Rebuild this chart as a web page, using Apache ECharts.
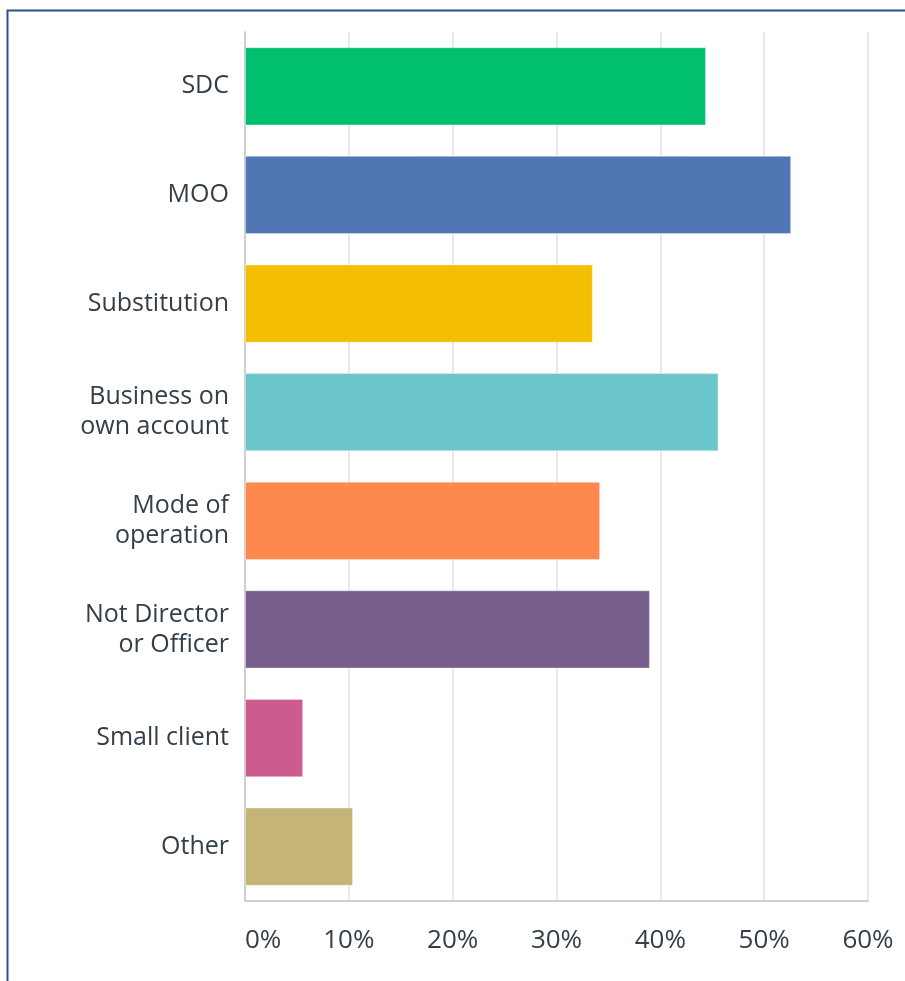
<!DOCTYPE html>
<html>
<head>
<meta charset="utf-8">
<script src="https://cdn.jsdelivr.net/npm/echarts@6/dist/echarts.min.js"></script>
<style>
  html, body { margin: 0; padding: 0; background: #fff; }
  #main { width: 905px; height: 981px; }
</style>
</head>
<body>
<div id="main"></div>
<script>
var categories = ['SDC', 'MOO', 'Substitution', 'Business on\nown account', 'Mode of\noperation', 'Not Director\nor Officer', 'Small client', 'Other']
var values = [44.4, 52.6, 33.5, 45.6, 34.2, 39.0, 5.6, 10.4]
var colors = ['#00bf6f', '#5076b4', '#f4bf00', '#6bc6cb', '#fd894f', '#785e8c', '#cd5c8e', '#c4b476']
var tickLabels = ['0%', '10%', '20%', '30%', '40%', '50%', '60%']

var myChart = echarts.init(document.getElementById('main'))

var barData = []
for (let index = 0; index < values.length; index++) {
  barData.push({
    value: values[index],
    itemStyle: {
      color: colors[index],
      borderColor: 'rgba(255,255,255,0.35)',
      borderWidth: 1,
    },
  })
}

var textColor = '#333e48'
var fontFamily = '"Open Sans", sans-serif'

var option = {
  animation: false,
  // 外框线
  graphic: [
    {
      type: 'rect',
      shape: { x: 7.5, y: 10.5, width: 1000, height: 1000 },
      style: { fill: 'none', stroke: '#2c5189', lineWidth: 2 },
      z: 100,
    },
  ],
  grid: {
    left: 245,
    right: 37,
    top: 32,
    bottom: 80,
  },
  xAxis: {
    type: 'value',
    min: 0,
    max: 60,
    interval: 10,
    axisLine: { show: true, lineStyle: { color: '#d0d0d0', width: 2 } },
    axisTick: { show: false },
    splitLine: { show: true, lineStyle: { color: '#e9e9e9', width: 2 } },
    axisLabel: {
      margin: 27,
      color: textColor,
      fontSize: 26,
      fontFamily: fontFamily,
      alignMinLabel: 'left',
      formatter: function (v) {
        return tickLabels[Math.round(v / 10)]
      },
    },
  },
  yAxis: {
    type: 'category',
    inverse: true,
    data: categories,
    axisLine: { show: true, lineStyle: { color: '#d0d0d0', width: 2 } },
    axisTick: { show: false },
    axisLabel: {
      margin: 16,
      color: textColor,
      fontSize: 25,
      lineHeight: 30,
      align: 'right',
      fontFamily: fontFamily,
    },
  },
  series: [
    {
      type: 'bar',
      data: barData,
      barCategoryGap: '28%',
    },
  ],
}

myChart.setOption(option)
</script>
</body>
</html>
